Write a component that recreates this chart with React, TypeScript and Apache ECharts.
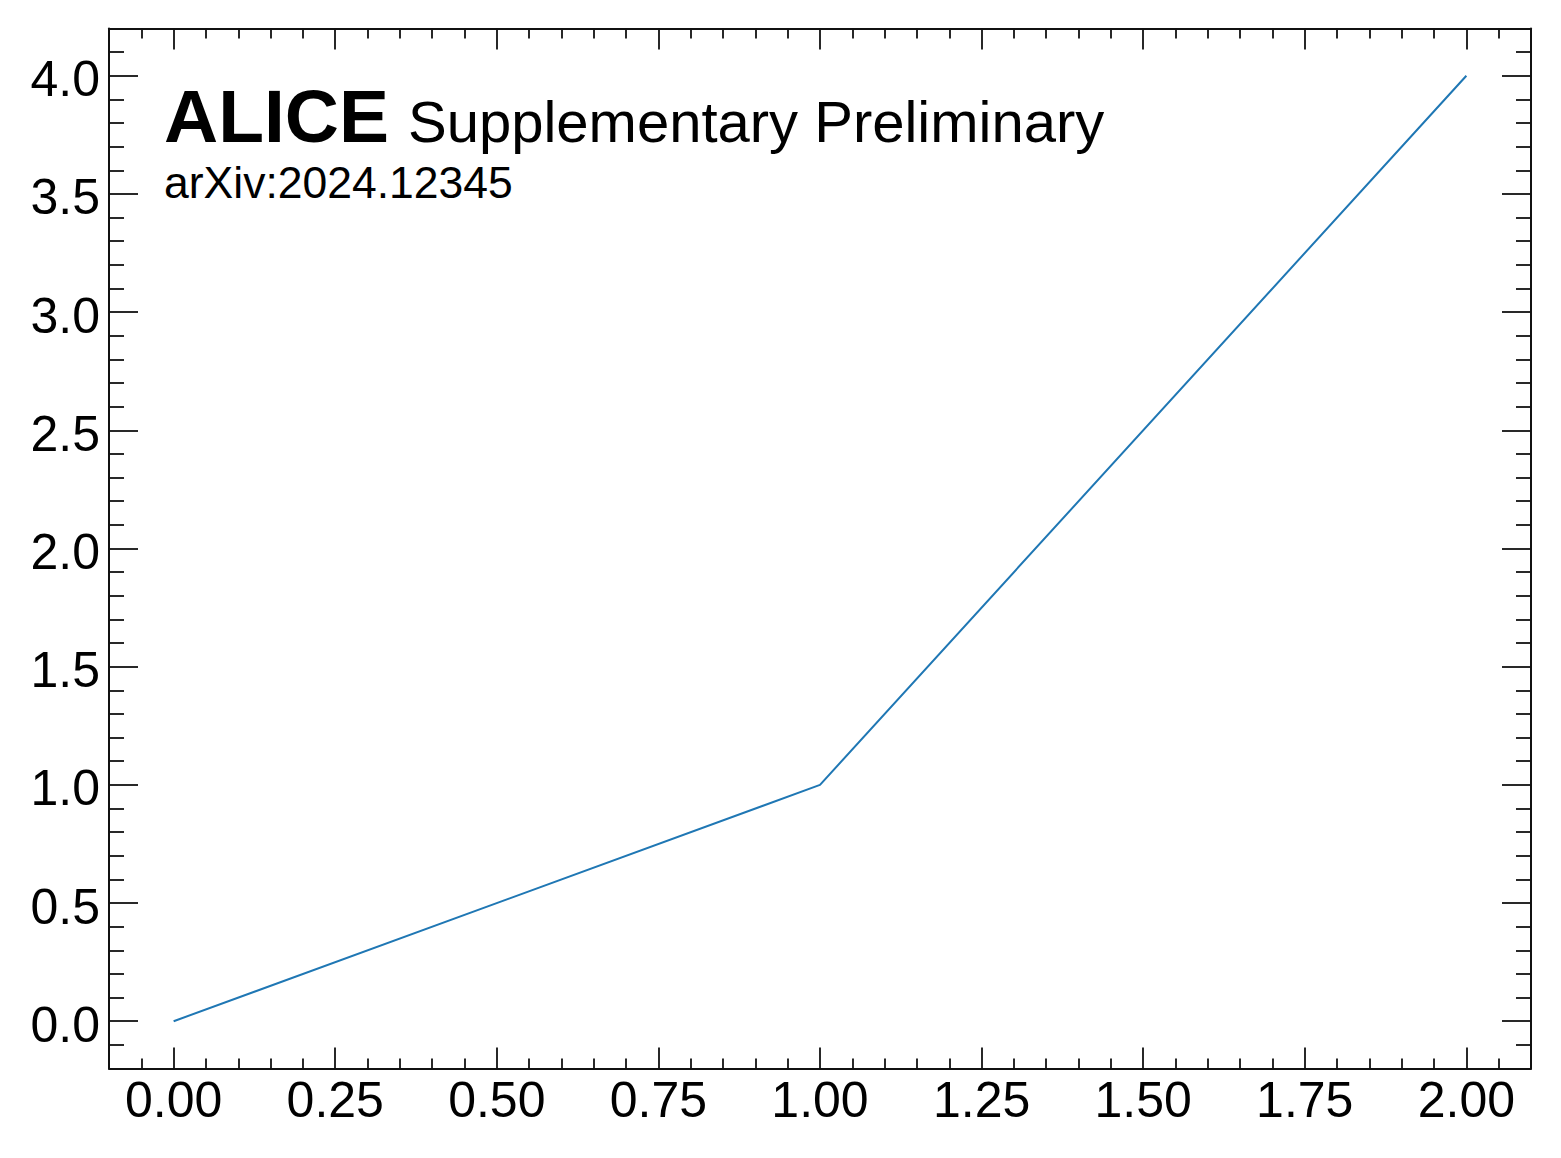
import React, { useEffect, useRef } from "react";
import * as echarts from "echarts";

const xValues = [0, 1, 2];
const yValues = [0, 1, 4];
const xMajorTicks = [0, 0.25, 0.5, 0.75, 1, 1.25, 1.5, 1.75, 2];
const xMinorTicks = [
  -0.05, 0.05, 0.1, 0.15, 0.2, 0.3, 0.35, 0.4, 0.45, 0.55, 0.6, 0.65, 0.7,
  0.8, 0.85, 0.9, 0.95, 1.05, 1.1, 1.15, 1.2, 1.3, 1.35, 1.4, 1.45, 1.55, 1.6,
  1.65, 1.7, 1.8, 1.85, 1.9, 1.95, 2.05,
];
const yMajorTicks = [0, 0.5, 1, 1.5, 2, 2.5, 3, 3.5, 4];
const yMinorTicks = [
  -0.1, 0.1, 0.2, 0.3, 0.4, 0.6, 0.7, 0.8, 0.9, 1.1, 1.2, 1.3, 1.4, 1.6, 1.7,
  1.8, 1.9, 2.1, 2.2, 2.3, 2.4, 2.6, 2.7, 2.8, 2.9, 3.1, 3.2, 3.3, 3.4, 3.6,
  3.7, 3.8, 3.9, 4.1,
];
const xRange = [-0.1, 2.1];
const yRange = [-0.2, 4.2];
const titleMain = "ALICE";
const titleSub = "Supplementary Preliminary";
const titleRef = "arXiv:2024.12345";

const FONT = "'Liberation Sans', Arial, Helvetica, sans-serif";
const AXIS_COLOR = "#111";

function makeAxis(
  kind: "x" | "y",
  position: string,
  ticks: number[],
  length: number,
  showLine: boolean,
  showLabels: boolean
): any {
  const isX = kind === "x";
  return {
    type: "value",
    position,
    min: isX ? xRange[0] : yRange[0],
    max: isX ? xRange[1] : yRange[1],
    axisLine: {
      show: showLine,
      onZero: false,
      lineStyle: { color: AXIS_COLOR, width: 2 },
    },
    axisTick: {
      show: true,
      inside: true,
      length,
      customValues: ticks,
      lineStyle: { color: AXIS_COLOR, width: 1.8 },
    },
    axisLabel: showLabels
      ? {
          show: true,
          customValues: ticks,
          fontSize: 50,
          fontFamily: FONT,
          color: "#000",
          margin: isX ? 6 : 9,
          formatter: (v: number) =>
            isX ? v.toFixed(2) : `{v|${v.toFixed(1)}}`,
          rich: {
            v: {
              fontSize: 50,
              fontFamily: FONT,
              color: "#000",
              padding: [7, 0, 0, 0],
            },
          },
        }
      : { show: false },
    splitLine: { show: false },
    minorTick: { show: false },
  };
}

export default function App() {
  const ref = useRef<HTMLDivElement>(null);
  useEffect(() => {
    document.body.style.margin = "0";
    if (!ref.current) return;
    const chart = echarts.init(ref.current, undefined, { renderer: "svg" });
    const option: any = {
      animation: false,
      backgroundColor: "#fff",
      grid: {
        left: 109,
        top: 28.5,
        width: 1422,
        height: 1040,
        containLabel: false,
        outerBoundsMode: "none",
      },
      xAxis: [
        makeAxis("x", "bottom", xMajorTicks, 21, true, true),
        makeAxis("x", "bottom", xMinorTicks, 10, false, false),
        makeAxis("x", "top", xMajorTicks, 21, true, false),
        makeAxis("x", "top", xMinorTicks, 10, false, false),
      ],
      yAxis: [
        makeAxis("y", "left", yMajorTicks, 29, true, true),
        makeAxis("y", "left", yMinorTicks, 15, false, false),
        makeAxis("y", "right", yMajorTicks, 29, true, false),
        makeAxis("y", "right", yMinorTicks, 15, false, false),
      ],
      series: [
        {
          type: "line",
          xAxisIndex: 0,
          yAxisIndex: 0,
          data: xValues.map((x, i) => [x, yValues[i]]),
          showSymbol: false,
          symbol: "none",
          lineStyle: { color: "#1f77b4", width: 2 },
          itemStyle: { color: "#1f77b4" },
        },
      ],
      graphic: [
        {
          type: "text",
          x: 164,
          y: 116,
          style: {
            text: titleMain,
            fontSize: 75,
            fontWeight: "bold",
            fontFamily: FONT,
            fill: "#000",
            verticalAlign: "middle",
            align: "left",
          },
          silent: true,
        },
        {
          type: "text",
          x: 408,
          y: 121,
          style: {
            text: titleSub,
            fontSize: 58,
            fontFamily: FONT,
            fill: "#000",
            verticalAlign: "middle",
            align: "left",
          },
          silent: true,
        },
        {
          type: "text",
          x: 164,
          y: 182,
          style: {
            text: titleRef,
            fontSize: 44.5,
            fontFamily: FONT,
            fill: "#000",
            verticalAlign: "middle",
            align: "left",
          },
          silent: true,
        },
      ],
    };
    chart.setOption(option);
    return () => chart.dispose();
  }, []);
  return <div ref={ref} style={{ width: 1561, height: 1158 }} />;
}
